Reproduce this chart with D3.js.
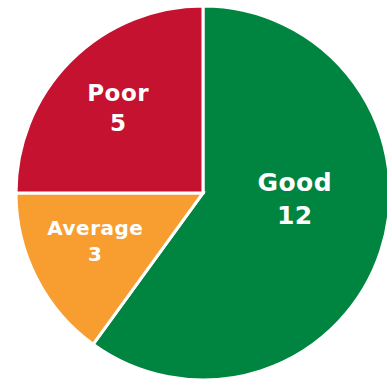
<!DOCTYPE html>
<html>
<head>
<meta charset="utf-8">
<script src="https://cdn.jsdelivr.net/npm/d3@7"></script>
<style>
  body { margin: 0; background: #fff; }
  svg { display: block; }
</style>
</head>
<body>
<svg id="chart"></svg>
<script>
const categories = ["Good", "Average", "Poor"];
const values = [12, 3, 5];
const colors = ["#008540", "#F89E31", "#C41230"];

const width = 387;
const height = 382;
const radius = 187;
const cx = 203;
const cy = 193;

const svg = d3.select("#chart")
  .attr("width", width)
  .attr("height", height);

const g = svg.append("g").attr("transform", `translate(${cx}, ${cy})`);

const data = categories.map((c, i) => ({ name: c, value: values[i], color: colors[i] }));

const pie = d3.pie().value(d => d.value).sort(null);
const arcs = pie(data);

const arc = d3.arc().innerRadius(0).outerRadius(radius);

g.selectAll("path")
  .data(arcs)
  .join("path")
  .attr("d", arc)
  .attr("fill", d => d.data.color)
  .attr("stroke", "#fff")
  .attr("stroke-width", 3)
  .attr("stroke-linejoin", "miter");

// label placement: per-slice radius / angle shift / font size
const labelOpts = {
  Good: { r: 92, shift: -0.25, size: 25 },
  Average: { r: 118, shift: 0.05, size: 20 },
  Poor: { r: 120, shift: 0, size: 23 }
};

const labels = g.selectAll(".lbl")
  .data(arcs)
  .join("text")
  .attr("class", "lbl")
  .attr("text-anchor", "middle")
  .attr("fill", "#fff")
  .style("font-family", "'DejaVu Sans', Verdana, sans-serif")
  .style("font-weight", "bold")
  .style("letter-spacing", "0.5px")
  .style("font-size", d => labelOpts[d.data.name].size + "px")
  .attr("transform", d => {
    const o = labelOpts[d.data.name];
    const a = (d.startAngle + d.endAngle) / 2 + o.shift;
    return `translate(${Math.sin(a) * o.r}, ${-Math.cos(a) * o.r})`;
  });

labels.append("tspan")
  .attr("x", 0)
  .attr("dy", "-0.3em")
  .text(d => d.data.name);

labels.append("tspan")
  .attr("x", 0)
  .attr("dy", "1.3em")
  .text(d => d.data.value);
</script>
</body>
</html>
